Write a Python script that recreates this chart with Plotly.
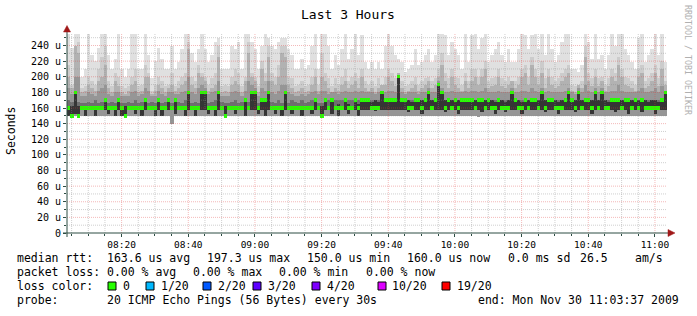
import pandas as pd
import plotly.graph_objects as go

# ---------------- data (microseconds, one column per minute) ----------------
START = "2009-11-30 08:03:37"
END = "2009-11-30 11:03:37"

median_us = [
    160,150,180,150,160,160,160,160,160,160,
    160,170,160,160,160,170,160,150,160,160,
    160,160,160,170,160,160,160,170,160,160,
    170,160,170,160,160,160,180,160,160,160,
    180,180,160,160,160,180,160,150,160,160,
    160,160,160,170,160,180,180,160,170,170,
    180,160,160,160,160,180,160,160,160,160,
    160,160,160,160,170,160,150,170,160,170,
    160,160,160,170,160,160,170,160,170,170,
    170,160,160,160,180,170,170,170,170,200,
    170,170,160,160,170,170,160,170,180,160,
    170,190,180,160,170,160,170,160,170,170,
    170,170,160,170,170,160,170,160,160,170,
    160,160,160,180,170,160,160,170,160,170,
    170,160,180,160,170,170,160,160,160,170,
    180,170,160,180,160,170,170,160,180,160,
    180,160,160,170,170,170,160,170,170,160,
    170,160,170,160,160,160,160,160,170,180,
]

ping_min_us = [
    150,150,150,150,150,150,150,150,150,150,
    150,150,150,150,150,150,150,148,150,150,
    150,150,150,150,150,150,150,150,150,150,
    150,140,150,150,150,150,150,150,150,150,
    150,150,150,150,150,150,150,148,150,150,
    150,150,150,150,150,150,150,150,150,150,
    150,150,150,150,150,150,150,150,150,150,
    150,150,150,150,150,150,148,150,150,150,
    150,150,150,150,150,150,150,150,150,150,
    150,150,150,150,150,150,150,150,150,150,
    150,150,150,150,150,150,150,150,150,150,
    150,150,150,150,150,150,150,150,150,150,
    150,150,150,148,150,150,150,150,150,150,
    150,150,150,150,150,150,150,150,150,150,
    150,150,150,150,150,150,150,150,150,150,
    150,150,150,150,150,150,150,150,150,150,
    150,150,150,150,150,150,150,150,150,150,
    150,150,150,150,150,150,150,150,150,150,
]

ping_max_us = [
    255,237,255,255,200,210,255,228,220,237,
    255,255,228,210,223,255,210,200,210,255,
    255,210,210,255,228,198,220,237,223,210,
    210,240,210,219,236,255,255,230,219,236,
    255,236,219,228,245,250,210,210,210,240,
    236,245,210,255,255,245,236,210,240,255,
    250,240,236,245,249,249,236,228,210,210,
    223,210,215,240,255,210,255,255,240,210,
    228,215,236,255,223,236,255,228,253,219,
    210,219,210,219,210,240,255,240,228,223,
    219,206,210,215,236,215,219,228,236,219,
    228,255,255,253,228,245,236,228,210,255,
    219,253,255,236,249,255,219,228,236,245,
    228,219,236,219,219,236,255,253,236,253,
    255,236,255,228,255,236,219,228,245,255,
    255,210,210,206,215,255,245,223,255,223,
    228,210,228,255,240,255,255,236,228,219,
    210,249,255,219,228,236,255,228,255,219,
]

ping_hi2_us = [
    215,190,240,245,185,188,200,195,190,210,
    225,240,195,188,205,200,188,185,188,200,
    210,188,190,215,205,182,190,200,195,188,
    190,205,188,195,200,205,245,200,195,215,
    205,200,190,198,205,240,188,190,188,200,
    210,205,188,200,245,205,200,188,220,205,
    240,205,200,215,240,240,200,198,188,190,
    195,188,190,200,210,190,230,205,198,188,
    198,190,200,210,195,200,205,198,210,195,
    190,195,188,198,190,200,210,205,198,205,
    195,188,190,195,200,190,195,198,200,195,
    198,210,230,205,198,210,200,198,190,205,
    195,210,210,200,210,220,195,198,200,210,
    198,195,200,195,195,200,210,215,200,225,
    210,200,220,198,210,200,195,198,205,210,
    215,190,188,188,195,240,205,198,210,198,
    200,190,198,210,205,225,210,200,198,195,
    190,210,215,195,198,205,215,198,220,195,
]

ping_hi3_us = [
    200,185,240,230,180,182,190,185,182,195,
    200,215,185,180,195,188,180,178,182,190,
    195,180,182,200,200,178,182,190,185,180,
    185,190,182,185,190,195,235,190,185,205,
    200,195,182,185,190,225,180,182,180,190,
    195,190,180,195,230,200,195,180,210,195,
    225,195,190,200,230,225,190,185,180,182,
    185,180,182,190,200,182,200,195,185,180,
    185,182,190,195,185,190,195,185,200,185,
    182,185,180,185,190,190,200,195,188,205,
    185,180,182,185,190,182,185,190,195,185,
    190,200,215,195,185,200,190,185,182,195,
    185,195,200,190,200,210,185,188,190,200,
    188,185,190,195,185,190,200,205,190,215,
    200,190,205,185,200,190,185,188,195,200,
    205,182,180,190,185,225,195,188,200,188,
    195,182,188,200,195,215,200,190,188,185,
    182,200,205,185,188,195,205,188,210,190,
]

ping_hi4_us = [
    185,178,200,200,175,176,180,178,176,182,
    185,190,178,176,180,180,176,175,176,180,
    182,176,178,185,182,175,176,182,178,176,
    180,180,178,178,180,182,200,180,178,185,
    190,185,178,180,182,195,176,176,175,180,
    182,180,176,182,195,190,185,176,185,182,
    195,180,178,182,190,190,180,178,176,176,
    178,176,178,180,182,178,182,182,178,180,
    180,178,180,182,180,180,182,180,182,180,
    180,180,178,180,182,180,182,182,180,200,
    180,178,180,180,180,178,180,180,185,180,
    180,195,185,180,180,182,180,180,180,182,
    180,182,182,180,182,185,180,180,180,182,
    180,180,180,185,180,180,182,182,180,185,
    182,180,185,180,182,180,180,180,180,182,
    185,180,178,185,180,190,182,180,185,180,
    185,180,180,182,182,190,182,180,180,180,
    180,182,185,180,180,182,185,180,188,182,
]

ping_p70_us = [
    170,168,182,168,167,166,168,167,170,166,
    168,172,167,168,166,172,167,166,168,167,
    170,166,168,172,167,168,166,172,167,168,
    172,167,172,168,166,170,182,167,168,166,
    182,182,167,168,170,182,168,166,167,168,
    170,166,168,172,168,182,182,166,172,172,
    182,168,167,170,166,182,167,170,168,166,
    170,166,168,170,172,167,166,172,170,172,
    170,170,170,172,170,170,172,170,172,172,
    172,170,170,170,182,172,172,172,172,202,
    172,172,170,170,172,172,170,172,182,170,
    172,192,182,170,172,170,172,170,172,172,
    172,172,170,172,172,170,172,170,170,172,
    170,170,170,182,172,170,170,172,170,172,
    172,170,182,170,172,172,170,170,170,172,
    182,172,170,182,170,172,172,170,182,170,
    182,170,170,172,172,172,170,172,172,170,
    172,170,172,170,170,170,170,170,172,182,
]

ping_q1_us = [
    150,150,152,150,157,150,157,157,150,157,
    157,157,152,157,150,157,150,150,157,157,
    152,157,150,157,157,157,150,157,150,157,
    157,157,152,157,157,150,157,157,150,157,
    157,157,152,157,150,157,157,150,157,157,
    152,157,157,150,157,157,157,152,157,150,
    157,157,152,157,150,157,157,152,157,157,
    150,157,157,152,157,157,150,157,157,152,
    157,150,157,157,152,157,157,150,157,157,
    158,158,156,158,158,158,158,158,158,158,
    158,158,155,158,158,158,152,158,158,158,
    158,158,158,155,158,158,158,152,158,158,
    158,158,158,158,155,158,158,158,152,158,
    158,155,158,158,158,158,152,158,158,158,
    158,158,158,155,158,158,158,152,158,158,
    158,158,155,158,158,158,158,152,158,158,
    158,158,158,158,155,158,158,158,152,158,
    158,158,155,158,158,158,152,158,158,158,
]

ping_q3_us = [
    163,162,182,162,162,162,162,162,163,162,
    162,172,162,163,162,172,162,162,162,162,
    163,162,162,172,162,163,162,172,162,162,
    172,162,172,162,162,163,182,162,162,162,
    182,182,162,162,162,182,163,162,162,162,
    163,162,162,172,162,182,182,162,172,172,
    182,162,162,163,162,182,162,163,162,162,
    163,162,162,163,172,162,162,172,163,172,
    163,165,163,172,165,163,172,165,172,172,
    172,168,170,168,182,172,172,172,172,202,
    172,172,170,168,172,172,170,172,182,170,
    172,192,182,170,172,170,172,170,172,172,
    172,172,170,172,172,170,172,170,168,172,
    170,168,170,182,172,170,168,172,170,172,
    172,170,182,170,172,172,170,168,170,172,
    182,172,170,182,170,172,172,170,182,170,
    182,170,168,172,172,172,170,172,172,170,
    172,170,172,170,168,170,170,168,172,182,
]

y_tick_vals = [0, 20, 40, 60, 80, 100, 120, 140, 160, 180, 200, 220, 240]
y_tick_text = ["0", "20 u", "40 u", "60 u", "80 u", "100 u", "120 u", "140 u",
               "160 u", "180 u", "200 u", "220 u", "240 u"]

title_text = "Last 3 Hours"
y_title = "Seconds"
watermark = "RRDTOOL / TOBI OETIKER"

stats_rtt = ["163.6 us avg", "197.3 us max", "150.0 us min", "160.0 us now", "0.0 ms sd", "26.5", "am/s"]
stats_loss = ["0.00 % avg", "0.00 % max", "0.00 % min", "0.00 % now"]
loss_labels = ["0", "1/20", "2/20", "3/20", "4/20", "10/20", "19/20"]
loss_colors = ["#26ff00", "#00b8ff", "#0059ff", "#5e00ff", "#7e00ff", "#dd00ff", "#ff0000"]
probe_text = "20 ICMP Echo Pings (56 Bytes) every 30s"
end_text = "end: Mon Nov 30 11:03:37 2009"

# ---------------- geometry ----------------
W, H = 697, 316
PL, PR, PT, PB = 67, 667, 33, 233   # plot area in pixels
YMAX = 256
FONT = "DejaVu Sans Mono"


def px(x):
    return (x - PL) / (PR - PL)


def py(y):
    return (PB - y) / (PB - PT)


n = len(median_us)
t_centers = pd.date_range(START, periods=n, freq="60s") + pd.Timedelta(seconds=30)
BAR_W = 60000  # ms

fig = go.Figure()


def band(lo, hi, color):
    fig.add_trace(go.Bar(
        x=t_centers, base=lo, y=[h - l for h, l in zip(hi, lo)],
        width=BAR_W, marker=dict(color=color, line=dict(width=0)),
        hoverinfo="skip", showlegend=False,
    ))


band(ping_min_us, ping_max_us, "#e0e0e0")
band(ping_min_us, ping_hi2_us, "#cccccc")
band(ping_min_us, ping_hi3_us, "#b2b2b2")
band(ping_min_us, ping_hi4_us, "#969696")
band(ping_q1_us, ping_p70_us, "#6e6e6e")
band(ping_q1_us, ping_q3_us, "#353535")

# median marker (thin band around the median)
MED_HALF = 2.2
fig.add_trace(go.Bar(
    x=t_centers, base=[m - MED_HALF for m in median_us], y=[2 * MED_HALF] * n,
    width=BAR_W, marker=dict(color=loss_colors[0], line=dict(width=0)),
    hoverinfo="skip", showlegend=False,
))

shapes = []
# grid on top of data
grid_minor = "rgba(140,140,140,0.42)"
grid_major = "rgba(222,60,60,0.36)"
DOT = "1px,1px"
for t in pd.date_range("2009-11-30 08:05", "2009-11-30 11:00", freq="5min"):
    major = t.minute % 20 == 0
    shapes.append(dict(type="line", xref="x", yref="paper", x0=t, x1=t, y0=0, y1=1,
                       line=dict(color=grid_major if major else grid_minor, width=1, dash=DOT),
                       layer="above"))
for v in range(10, 251, 10):
    major = v % 20 == 0
    shapes.append(dict(type="line", xref="paper", yref="y", x0=0, x1=1, y0=v, y1=v,
                       line=dict(color=grid_major if major else grid_minor, width=1, dash=DOT),
                       layer="above"))

AXIS_C = "#2c4d43"
ARROW_C = "#a01818"
shapes.append(dict(type="line", xref="paper", yref="paper", x0=px(63), x1=px(670), y0=py(233), y1=py(233),
                   line=dict(color=AXIS_C, width=1), layer="above"))
shapes.append(dict(type="line", xref="paper", yref="paper", x0=px(67), x1=px(67), y0=py(237), y1=py(30),
                   line=dict(color=AXIS_C, width=1), layer="above"))


def tri(points):
    return "M " + " L ".join(f"{px(a):.5f},{py(b):.5f}" for a, b in points) + " Z"


shapes.append(dict(type="path", xref="paper", yref="paper", path=tri([(668, 229.5), (675, 233), (668, 236.5)]),
                   fillcolor=ARROW_C, line=dict(color=ARROW_C, width=0.5), layer="above"))
shapes.append(dict(type="path", xref="paper", yref="paper", path=tri([(63.5, 32), (67, 25.5), (70.5, 32)]),
                   fillcolor=ARROW_C, line=dict(color=ARROW_C, width=0.5), layer="above"))

annotations = []


def text(x, y, s, size=11.5, anchor="left", color="black", angle=0):
    annotations.append(dict(xref="paper", yref="paper", x=px(x), y=py(y), text=s, showarrow=False,
                            xanchor=anchor, yanchor="middle", textangle=angle,
                            font=dict(family=FONT, size=size, color=color), borderpad=0, borderwidth=0))


text(348, 14, title_text, size=13, anchor="center")
text(11, 131, y_title, size=11.5, anchor="center", angle=-90)
text(688, 60, watermark, size=8.3, anchor="center", color="#b0b0b0", angle=90)

ROW = [258, 272, 286, 300]
text(17, ROW[0], "median rtt:")
for s, x in zip(stats_rtt, [107, 207, 307, 407, 508, 580, 635]):
    text(x, ROW[0], s)
text(17, ROW[1], "packet loss:")
for s, x in zip(stats_loss, [107, 193, 279, 366]):
    text(x, ROW[1], s)
text(17, ROW[2], "loss color:")
sq_x = [108, 146, 203, 253, 312, 378, 442]
lab_x = [123, 161, 218, 268, 327, 392, 457]
for lab, col, sx, lx in zip(loss_labels, loss_colors, sq_x, lab_x):
    shapes.append(dict(type="rect", xref="paper", yref="paper", x0=px(sx), x1=px(sx + 8),
                       y0=py(ROW[2] + 4), y1=py(ROW[2] - 4), fillcolor=col,
                       line=dict(color="black", width=1), layer="above"))
    text(lx, ROW[2], lab)
text(17, ROW[3], "probe:")
text(107, ROW[3], probe_text)
text(478, ROW[3], end_text)

fig.update_layout(
    width=W, height=H, autosize=False,
    margin=dict(l=PL, r=W - PR, t=PT, b=H - PB, pad=0),
    paper_bgcolor="white", plot_bgcolor="white",
    barmode="overlay", bargap=0, showlegend=False,
    shapes=shapes, annotations=annotations,
    xaxis=dict(
        type="date", range=[START, END], showgrid=False, zeroline=False, showline=False,
        tick0="2009-11-30 08:00", dtick=20 * 60 * 1000, tickformat="%H:%M",
        ticks="outside", ticklen=3, tickcolor=AXIS_C,
        minor=dict(dtick=5 * 60 * 1000, ticks="outside", ticklen=2, tickcolor=AXIS_C, showgrid=False),
        tickfont=dict(family=FONT, size=9.5, color="black"),
    ),
    yaxis=dict(
        range=[0, YMAX], showgrid=False, zeroline=False, showline=False,
        tickmode="array", tickvals=y_tick_vals, ticktext=y_tick_text,
        ticks="outside", ticklen=3, tickcolor=AXIS_C,
        minor=dict(dtick=10, ticks="outside", ticklen=2, tickcolor=AXIS_C, showgrid=False),
        tickfont=dict(family=FONT, size=10, color="black"),
    ),
)

fig.write_html("out.html")
